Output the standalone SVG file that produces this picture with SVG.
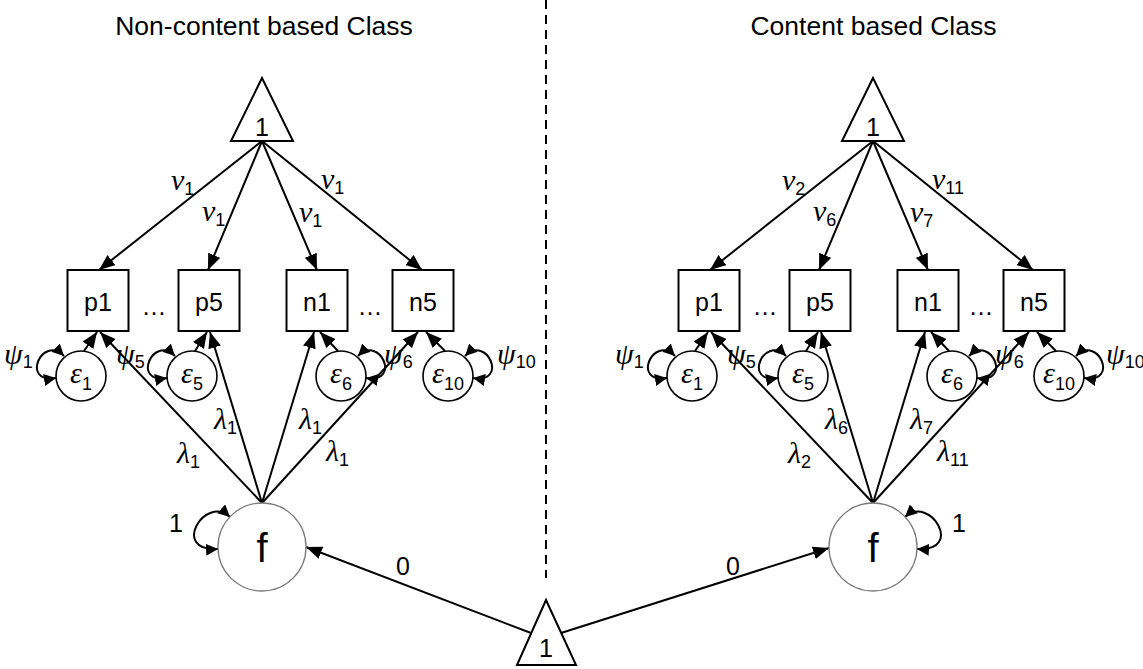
<svg xmlns="http://www.w3.org/2000/svg" width="1143" height="669" viewBox="0 0 1143 669">
  <style>
    .box { fill: #fff; stroke: #000; stroke-width: 2; }
    .err { fill: #fff; stroke: #000; stroke-width: 1.6; }
    .lat { fill: #fff; stroke: #7a7a7a; stroke-width: 1.3; }
    .tri { fill: #fff; stroke: #000; stroke-width: 2; stroke-linejoin: miter; }
    .edge { fill: none; stroke: #000; stroke-width: 2; marker-end: url(#ah); }
    .loop { fill: none; stroke: #000; stroke-width: 2; marker-start: url(#ahs); marker-end: url(#ahs); }
    .divider { fill: none; stroke: #000; stroke-width: 2; stroke-dasharray: 9 6; }
    text { font-family: "Liberation Sans", Arial, sans-serif; fill: #000; }
    .title { font-size: 26.5px; text-anchor: middle; }
    .node { font-size: 25px; text-anchor: middle; }
    .big { font-size: 40px; text-anchor: middle; }
    .num { font-size: 25px; text-anchor: middle; }
    .gk { font-family: "Liberation Serif", "Times New Roman", serif; font-style: italic; font-size: 30px; }
    .sub { font-family: "Liberation Sans", Arial, sans-serif; font-style: normal; font-size: 18px; }
    .mid { text-anchor: middle; }
  </style>
  <defs>
    <marker id="ah" markerUnits="userSpaceOnUse" markerWidth="17" markerHeight="13" refX="16" refY="6.5" orient="auto">
      <path d="M0,0 L16,6.5 L0,13 z" fill="#000"/>
    </marker>
    <marker id="ahs" markerUnits="userSpaceOnUse" markerWidth="13" markerHeight="12" refX="12" refY="6" orient="auto-start-reverse">
      <path d="M0,0 L12,6 L0,12 z" fill="#000"/>
    </marker>
  </defs>

  <!-- class titles and divider -->
  <text class="title" x="264" y="35">Non-content based Class</text>
  <text class="title" x="873.5" y="35">Content based Class</text>
  <line class="divider" x1="546" y1="0" x2="546" y2="578"/>

  <g id="connectors">
    <!-- left class: intercepts -->
    <line class="edge" x1="262" y1="141" x2="99" y2="270"/>
    <line class="edge" x1="262" y1="141" x2="208" y2="270"/>
    <line class="edge" x1="262" y1="141" x2="317" y2="270"/>
    <line class="edge" x1="262" y1="141" x2="422" y2="270"/>
    <!-- left class: loadings -->
    <line class="edge" x1="262" y1="503" x2="100" y2="332"/>
    <line class="edge" x1="262" y1="503" x2="210" y2="332"/>
    <line class="edge" x1="262" y1="503" x2="314" y2="332"/>
    <line class="edge" x1="262" y1="503" x2="418" y2="332"/>
    <!-- left class: residuals -->
    <line class="edge" x1="84" y1="351" x2="97" y2="332"/>
    <line class="edge" x1="195" y1="351" x2="207" y2="332"/>
    <line class="edge" x1="338" y1="351" x2="320" y2="332"/>
    <line class="edge" x1="445" y1="351" x2="426" y2="332"/>
    <path class="loop" d="M64,356 C42,334 20,384 56,378"/>
    <path class="loop" d="M175,356 C153,334 131,384 167,378"/>
    <path class="loop" d="M358,356 C380,334 402,384 366,378"/>
    <path class="loop" d="M465,356 C487,334 509,384 473,378"/>
    <path class="loop" d="M230,517 C205,494 170,552 218,549"/>

    <!-- right class: intercepts -->
    <line class="edge" x1="873" y1="141" x2="710" y2="270"/>
    <line class="edge" x1="873" y1="141" x2="819" y2="270"/>
    <line class="edge" x1="873" y1="141" x2="928" y2="270"/>
    <line class="edge" x1="873" y1="141" x2="1033" y2="270"/>
    <!-- right class: loadings -->
    <line class="edge" x1="873" y1="503" x2="711" y2="332"/>
    <line class="edge" x1="873" y1="503" x2="821" y2="332"/>
    <line class="edge" x1="873" y1="503" x2="925" y2="332"/>
    <line class="edge" x1="873" y1="503" x2="1029" y2="332"/>
    <!-- right class: residuals -->
    <line class="edge" x1="695" y1="351" x2="708" y2="332"/>
    <line class="edge" x1="806" y1="351" x2="818" y2="332"/>
    <line class="edge" x1="949" y1="351" x2="931" y2="332"/>
    <line class="edge" x1="1056" y1="351" x2="1037" y2="332"/>
    <path class="loop" d="M675,356 C653,334 631,384 667,378"/>
    <path class="loop" d="M786,356 C764,334 742,384 778,378"/>
    <path class="loop" d="M969,356 C991,334 1013,384 977,378"/>
    <path class="loop" d="M1076,356 C1098,334 1120,384 1084,378"/>
    <path class="loop" d="M905,517 C930,494 965,552 917,549"/>

    <!-- shared mean structure -->
    <line class="edge" x1="531" y1="633" x2="306" y2="547"/>
    <line class="edge" x1="561" y1="633" x2="829" y2="548"/>

    <!-- path labels, left class -->
    <text class="gk" x="171" y="190">ν<tspan class="sub" dy="5">1</tspan></text>
    <text class="gk" x="202" y="221">ν<tspan class="sub" dy="5">1</tspan></text>
    <text class="gk" x="299" y="222">ν<tspan class="sub" dy="5">1</tspan></text>
    <text class="gk" x="321" y="189">ν<tspan class="sub" dy="5">1</tspan></text>
    <text class="gk" x="177" y="463">λ<tspan class="sub" dy="5">1</tspan></text>
    <text class="gk" x="214" y="429">λ<tspan class="sub" dy="5">1</tspan></text>
    <text class="gk" x="299" y="429">λ<tspan class="sub" dy="5">1</tspan></text>
    <text class="gk" x="326" y="461">λ<tspan class="sub" dy="5">1</tspan></text>
    <text class="gk" x="4" y="364">ψ<tspan class="sub" dy="4">1</tspan></text>
    <text class="gk" x="116" y="364">ψ<tspan class="sub" dy="4">5</tspan></text>
    <text class="gk" x="384" y="364">ψ<tspan class="sub" dy="4">6</tspan></text>
    <text class="gk" x="497" y="364">ψ<tspan class="sub" dy="4">10</tspan></text>
    <text class="num" x="176" y="532">1</text>

    <!-- path labels, right class -->
    <text class="gk" x="782" y="190">ν<tspan class="sub" dy="5">2</tspan></text>
    <text class="gk" x="813" y="221">ν<tspan class="sub" dy="5">6</tspan></text>
    <text class="gk" x="910" y="222">ν<tspan class="sub" dy="5">7</tspan></text>
    <text class="gk" x="932" y="189">ν<tspan class="sub" dy="5">11</tspan></text>
    <text class="gk" x="788" y="463">λ<tspan class="sub" dy="5">2</tspan></text>
    <text class="gk" x="825" y="429">λ<tspan class="sub" dy="5">6</tspan></text>
    <text class="gk" x="910" y="429">λ<tspan class="sub" dy="5">7</tspan></text>
    <text class="gk" x="937" y="461">λ<tspan class="sub" dy="5">11</tspan></text>
    <text class="gk" x="615" y="364">ψ<tspan class="sub" dy="4">1</tspan></text>
    <text class="gk" x="727" y="364">ψ<tspan class="sub" dy="4">5</tspan></text>
    <text class="gk" x="995" y="364">ψ<tspan class="sub" dy="4">6</tspan></text>
    <text class="gk" x="1106" y="364">ψ<tspan class="sub" dy="4">10</tspan></text>
    <text class="num" x="959" y="532">1</text>

    <text class="num" x="403" y="575">0</text>
    <text class="num" x="733" y="575">0</text>
  </g>

  <!-- left class nodes -->
  <g id="L_const">
    <polygon class="tri" points="262,78 231,141 293,141"/>
    <text class="node" x="262" y="136">1</text>
  </g>
  <g id="L_p1"><rect class="box" x="67.5" y="270" width="61" height="61"/><text class="node" x="98" y="311">p1</text></g>
  <text class="node" x="154" y="315">…</text>
  <g id="L_p5"><rect class="box" x="178.5" y="270" width="61" height="61"/><text class="node" x="209" y="311">p5</text></g>
  <g id="L_n1"><rect class="box" x="286.5" y="270" width="61" height="61"/><text class="node" x="317" y="311">n1</text></g>
  <text class="node" x="370" y="315">…</text>
  <g id="L_n5"><rect class="box" x="392.5" y="270" width="61" height="61"/><text class="node" x="423" y="311">n5</text></g>
  <g id="L_e1"><circle class="err" cx="81" cy="376" r="25"/><text class="gk mid" x="81" y="383">ε<tspan class="sub" dy="7">1</tspan></text></g>
  <g id="L_e5"><circle class="err" cx="192" cy="376" r="25"/><text class="gk mid" x="192" y="383">ε<tspan class="sub" dy="7">5</tspan></text></g>
  <g id="L_e6"><circle class="err" cx="341" cy="376" r="25"/><text class="gk mid" x="341" y="383">ε<tspan class="sub" dy="7">6</tspan></text></g>
  <g id="L_e10"><circle class="err" cx="448" cy="376" r="25"/><text class="gk mid" x="448" y="383">ε<tspan class="sub" dy="7">10</tspan></text></g>
  <g id="L_f"><circle class="lat" cx="262" cy="547" r="44"/><text class="big" x="262" y="562">f</text></g>

  <!-- right class nodes -->
  <g id="R_const">
    <polygon class="tri" points="873,78 842,141 904,141"/>
    <text class="node" x="873" y="136">1</text>
  </g>
  <g id="R_p1"><rect class="box" x="678.5" y="270" width="61" height="61"/><text class="node" x="709" y="311">p1</text></g>
  <text class="node" x="765" y="315">…</text>
  <g id="R_p5"><rect class="box" x="789.5" y="270" width="61" height="61"/><text class="node" x="820" y="311">p5</text></g>
  <g id="R_n1"><rect class="box" x="897.5" y="270" width="61" height="61"/><text class="node" x="928" y="311">n1</text></g>
  <text class="node" x="981" y="315">…</text>
  <g id="R_n5"><rect class="box" x="1003.5" y="270" width="61" height="61"/><text class="node" x="1034" y="311">n5</text></g>
  <g id="R_e1"><circle class="err" cx="692" cy="376" r="25"/><text class="gk mid" x="692" y="383">ε<tspan class="sub" dy="7">1</tspan></text></g>
  <g id="R_e5"><circle class="err" cx="803" cy="376" r="25"/><text class="gk mid" x="803" y="383">ε<tspan class="sub" dy="7">5</tspan></text></g>
  <g id="R_e6"><circle class="err" cx="952" cy="376" r="25"/><text class="gk mid" x="952" y="383">ε<tspan class="sub" dy="7">6</tspan></text></g>
  <g id="R_e10"><circle class="err" cx="1059" cy="376" r="25"/><text class="gk mid" x="1059" y="383">ε<tspan class="sub" dy="7">10</tspan></text></g>
  <g id="R_f"><circle class="lat" cx="873" cy="547" r="44"/><text class="big" x="873" y="562">f</text></g>

  <!-- shared constant -->
  <g id="mix_const">
    <polygon class="tri" points="546,600 517,665 576,665"/>
    <text class="node" x="546" y="657">1</text>
  </g>
</svg>
